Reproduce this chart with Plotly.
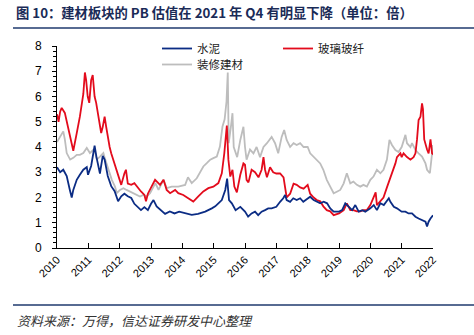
import plotly.graph_objects as go

# ---- data ----
years = list(range(2010, 2023))
year_labels = [str(y) for y in years]
y_ticks = list(range(0, 9))

cement_x = [2010.00, 2010.10, 2010.20, 2010.31, 2010.41, 2010.47, 2010.52, 2010.63, 2010.73, 2010.84,
            2010.95, 2010.99, 2011.09, 2011.20, 2011.26, 2011.30, 2011.37, 2011.46, 2011.52, 2011.62,
            2011.73, 2011.84, 2011.95, 2012.05, 2012.15, 2012.26, 2012.37, 2012.47, 2012.58, 2012.68,
            2012.79, 2012.90, 2013.00, 2013.08, 2013.18, 2013.30, 2013.45, 2013.60, 2013.75, 2013.90,
            2014.09, 2014.30, 2014.50, 2014.73, 2014.94, 2015.05, 2015.15, 2015.26, 2015.37, 2015.43,
            2015.49, 2015.58, 2015.70, 2015.85, 2016.00, 2016.10, 2016.21, 2016.32, 2016.42, 2016.53,
            2016.64, 2016.74, 2016.85, 2017.00, 2017.12, 2017.22, 2017.28, 2017.33, 2017.44, 2017.54,
            2017.65, 2017.76, 2017.86, 2018.00, 2018.08, 2018.19, 2018.30, 2018.40, 2018.51, 2018.62,
            2018.72, 2018.83, 2019.00, 2019.10, 2019.20, 2019.31, 2019.42, 2019.52, 2019.63, 2019.74,
            2019.84, 2020.00, 2020.11, 2020.21, 2020.32, 2020.43, 2020.53, 2020.59, 2020.64, 2020.75,
            2020.85, 2021.00, 2021.12, 2021.22, 2021.33, 2021.44, 2021.54, 2021.65, 2021.76, 2021.81,
            2021.86, 2021.92, 2022.00]
cement_y = [3.20, 3.00, 3.10, 2.85, 2.30, 2.00, 2.30, 2.70, 2.90, 3.10,
            3.20, 2.90, 3.25, 4.05, 3.60, 3.35, 2.95, 3.65, 3.50, 2.85,
            2.45, 2.25, 1.85, 2.05, 2.15, 2.05, 1.98, 1.75, 1.62, 1.50,
            1.62, 1.50, 1.75, 1.90, 1.65, 1.50, 1.35, 1.45, 1.37, 1.44,
            1.38, 1.31, 1.35, 1.44, 1.57, 1.65, 1.77, 1.90, 2.30, 2.75,
            1.90, 1.77, 1.50, 1.63, 1.44, 1.24, 1.37, 1.44, 1.30, 1.44,
            1.50, 1.57, 1.57, 1.63, 1.83, 1.97, 2.10, 1.90, 1.83, 1.97,
            1.90, 1.97, 1.83, 1.97, 2.03, 1.90, 1.83, 1.77, 1.83, 1.77,
            1.57, 1.44, 1.44, 1.50, 1.77, 1.63, 1.50, 1.70, 1.44, 1.50,
            1.44, 1.57, 1.70, 1.50, 1.77, 1.70, 1.90, 1.97, 1.83, 1.63,
            1.57, 1.44, 1.44, 1.37, 1.37, 1.24, 1.17, 1.10, 1.04, 0.85,
            1.04, 1.17, 1.30]

glass_x = [2010.00, 2010.05, 2010.10, 2010.15, 2010.25, 2010.36, 2010.47, 2010.52, 2010.63, 2010.73,
           2010.84, 2010.89, 2010.93, 2010.98, 2011.03, 2011.09, 2011.14, 2011.20, 2011.25, 2011.30,
           2011.35, 2011.41, 2011.46, 2011.52, 2011.57, 2011.62, 2011.68, 2011.73, 2011.84, 2011.95,
           2012.05, 2012.15, 2012.20, 2012.26, 2012.37, 2012.47, 2012.58, 2012.68, 2012.79, 2012.84,
           2012.90, 2013.02, 2013.13, 2013.29, 2013.40, 2013.50, 2013.61, 2013.77, 2013.87, 2014.03,
           2014.20, 2014.35, 2014.51, 2014.67, 2014.83, 2014.99, 2015.15, 2015.26, 2015.34, 2015.42,
           2015.47, 2015.53, 2015.60, 2015.66, 2015.74, 2015.85, 2015.95, 2016.00, 2016.05, 2016.11,
           2016.21, 2016.32, 2016.43, 2016.53, 2016.59, 2016.64, 2016.70, 2016.80, 2016.90, 2017.00,
           2017.12, 2017.23, 2017.33, 2017.44, 2017.55, 2017.65, 2017.76, 2017.87, 2018.00, 2018.08,
           2018.19, 2018.29, 2018.40, 2018.50, 2018.61, 2018.72, 2018.83, 2019.00, 2019.15, 2019.25,
           2019.36, 2019.46, 2019.57, 2019.68, 2019.78, 2019.89, 2020.00, 2020.10, 2020.17, 2020.21,
           2020.32, 2020.42, 2020.53, 2020.64, 2020.74, 2020.80, 2020.85, 2020.96, 2021.00, 2021.06,
           2021.17, 2021.28, 2021.38, 2021.44, 2021.49, 2021.54, 2021.60, 2021.65, 2021.68, 2021.72,
           2021.81, 2021.86, 2021.92, 2021.97, 2022.02]
glass_y = [5.30, 5.00, 5.40, 5.55, 5.35, 4.70, 4.00, 3.85, 4.55, 5.20,
           6.10, 6.95, 6.65, 6.00, 5.75, 6.65, 6.85, 6.00, 5.75, 5.35,
           4.95, 4.55, 4.80, 5.20, 4.80, 4.40, 4.00, 3.75, 3.35, 2.95,
           2.50, 2.95, 3.10, 2.55, 2.50, 2.57, 2.37, 2.24, 2.10, 1.85,
           2.15, 2.43, 2.70, 2.50, 2.70, 2.30, 2.17, 2.30, 2.17, 2.10,
           1.97, 1.84, 2.04, 2.24, 2.37, 2.43, 2.57, 2.96, 3.76, 4.85,
           3.50, 2.83, 3.10, 2.43, 2.20, 2.90, 3.35, 3.30, 2.70, 2.60,
           3.10, 3.00, 2.80, 3.10, 3.60, 3.10, 2.80, 3.20, 3.00, 2.95,
           2.95, 2.80, 2.00, 2.15, 2.55, 2.50, 2.40, 2.35, 2.50, 2.15,
           2.00, 1.90, 1.85, 1.65, 1.50, 1.45, 1.30, 1.37, 1.50, 1.77,
           1.50, 1.50, 1.45, 1.45, 1.50, 1.50, 1.70, 2.00, 2.20, 1.70,
           1.85, 2.00, 2.40, 2.80, 3.10, 3.35, 3.60, 3.75, 3.60, 3.75,
           3.60, 3.50, 3.60, 3.75, 4.30, 5.07, 5.20, 5.73, 5.50, 4.30,
           3.90, 3.75, 4.30, 3.75, 3.70]

deco_x = [2010.00, 2010.10, 2010.20, 2010.25, 2010.31, 2010.42, 2010.52, 2010.63, 2010.73, 2010.84,
          2010.95, 2011.05, 2011.16, 2011.22, 2011.27, 2011.37, 2011.48, 2011.54, 2011.64, 2011.75,
          2011.85, 2011.91, 2012.01, 2012.12, 2012.22, 2012.33, 2012.44, 2012.54, 2012.65, 2012.75,
          2012.86, 2012.97, 2013.08, 2013.14, 2013.24, 2013.40, 2013.50, 2013.66, 2013.87, 2014.09,
          2014.18, 2014.30, 2014.46, 2014.55, 2014.67, 2014.78, 2014.89, 2014.99, 2015.10, 2015.20,
          2015.28, 2015.35, 2015.41, 2015.45, 2015.48, 2015.55, 2015.60, 2015.64, 2015.75, 2015.85,
          2015.95, 2016.00, 2016.05, 2016.16, 2016.27, 2016.37, 2016.48, 2016.59, 2016.70, 2016.85,
          2016.96, 2017.06, 2017.17, 2017.25, 2017.33, 2017.44, 2017.55, 2017.65, 2017.76, 2017.87,
          2018.00, 2018.08, 2018.19, 2018.29, 2018.40, 2018.50, 2018.61, 2018.72, 2018.83, 2018.93,
          2019.04, 2019.15, 2019.25, 2019.36, 2019.46, 2019.57, 2019.68, 2019.78, 2019.89, 2020.00,
          2020.10, 2020.21, 2020.32, 2020.42, 2020.53, 2020.61, 2020.69, 2020.80, 2020.90, 2021.00,
          2021.12, 2021.17, 2021.28, 2021.33, 2021.44, 2021.54, 2021.65, 2021.76, 2021.81, 2021.90,
          2021.95, 2022.00]
deco_y = [4.20, 4.42, 4.62, 4.30, 3.76, 3.50, 3.57, 3.69, 3.69, 3.76,
          3.96, 3.76, 3.89, 3.76, 3.50, 3.62, 3.76, 3.50, 3.10, 2.70,
          2.43, 2.17, 2.30, 2.37, 2.30, 2.24, 2.17, 2.10, 2.04, 2.10,
          2.04, 2.17, 2.40, 2.57, 2.30, 2.70, 2.37, 2.43, 2.43, 2.50,
          2.80, 2.57, 2.76, 2.96, 3.23, 3.36, 3.50, 3.56, 3.62, 4.02,
          4.80, 5.10, 5.80, 6.95, 4.15, 4.80, 5.34, 4.00, 3.60, 4.28,
          4.80, 4.00, 3.50, 3.90, 3.75, 4.00, 3.60, 4.00, 4.15, 4.40,
          4.15, 3.75, 4.40, 4.67, 4.28, 4.00, 4.15, 4.08, 4.15, 4.00,
          4.00, 3.75, 3.60, 3.50, 3.35, 3.10, 2.70, 2.43, 2.17, 2.23,
          2.30, 2.56, 2.96, 2.56, 2.63, 2.50, 2.43, 2.50, 2.43, 2.70,
          2.83, 3.10, 2.96, 3.10, 3.50, 4.28, 4.08, 3.88, 3.80, 4.00,
          4.48, 4.15, 4.00, 4.15, 3.88, 3.75, 3.62, 3.35, 3.10, 2.96,
          3.62, 4.08]

names = ["水泥", "玻璃玻纤", "装修建材"]
colors = ["#0B2C84", "#E30B1C", "#BDBDBD"]

title_text = "图 10：建材板块的 PB 估值在 2021 年 Q4 有明显下降（单位：倍）"
source_text = "资料来源：万得，信达证券研发中心整理"

# ---- figure ----
W, H = 474, 335
L, R, T, B = 57, 41, 46, 87
pw, ph = W - L - R, H - T - B

def px_to_paper_x(px):
    return (px - L) / pw

def px_to_paper_y(py):
    return (H - B - py) / ph

fig = go.Figure()
legend_ids = ["legend", "legend2", "legend3"]
series = [(cement_x, cement_y), (glass_x, glass_y), (deco_x, deco_y)]
# draw gray first so others appear on top
order = [2, 1, 0]
for i in order:
    xs, ys = series[i]
    fig.add_trace(go.Scatter(
        x=xs, y=ys, mode="lines", name=names[i],
        line=dict(color=colors[i], width=1.8),
        legend=legend_ids[i], showlegend=True,
    ))

font_cjk = "Noto Sans CJK SC, sans-serif"
leg_common = dict(font=dict(family=font_cjk, size=11.5, color="#222"),
                  bgcolor="rgba(0,0,0,0)", borderwidth=0,
                  xanchor="left", yanchor="middle", itemwidth=30,
                  tracegroupgap=0)
fig.update_layout(
    width=W, height=H,
    margin=dict(l=L, r=R, t=T, b=B),
    paper_bgcolor="white", plot_bgcolor="white",
    showlegend=True,
    legend=dict(x=px_to_paper_x(157), y=px_to_paper_y(48.5), **leg_common),
    legend2=dict(x=px_to_paper_x(278), y=px_to_paper_y(48.5), **leg_common),
    legend3=dict(x=px_to_paper_x(157), y=px_to_paper_y(64.5), **leg_common),
    title=dict(text="<b>" + title_text + "</b>", x=16 / W, xanchor="left", xref="container",
               y=1 - 13 / H, yanchor="middle", yref="container",
               font=dict(family=font_cjk, size=13.3, color="#1A2B57")),
    xaxis=dict(range=[2010, 2022], tickmode="array", tickvals=years, ticktext=year_labels,
               tickangle=-45, ticks="inside", ticklen=5, tickcolor="black",
               showline=True, linecolor="black", linewidth=1, showgrid=False, zeroline=False,
               tickfont=dict(family="Liberation Sans, Arial", size=11, color="black")),
    yaxis=dict(range=[0, 8], tickmode="array", tickvals=y_ticks,
               ticks="outside", ticklen=4, tickcolor="black",
               minor=dict(dtick=0.2, ticks="outside", ticklen=3, tickcolor="black", showgrid=False),
               showline=True, linecolor="black", linewidth=1, showgrid=False, zeroline=False,
               ticklabelstandoff=8,
               tickfont=dict(family="Liberation Sans, Arial", size=12, color="black")),
)

# title underline & bottom rule
fig.add_shape(type="line", xref="paper", yref="paper",
              x0=px_to_paper_x(13), x1=px_to_paper_x(474), y0=px_to_paper_y(28), y1=px_to_paper_y(28),
              line=dict(color="#1F3A6E", width=1.5))
fig.add_shape(type="line", xref="paper", yref="paper",
              x0=px_to_paper_x(13), x1=px_to_paper_x(474), y0=px_to_paper_y(305), y1=px_to_paper_y(305),
              line=dict(color="#1F3A6E", width=1.5))
fig.add_annotation(text="<i>" + source_text + "</i>", xref="paper", yref="paper",
                   x=px_to_paper_x(15), y=px_to_paper_y(320), xanchor="left", yanchor="middle",
                   showarrow=False, font=dict(family=font_cjk, size=13, color="#333"))

fig.write_html("out.html")
